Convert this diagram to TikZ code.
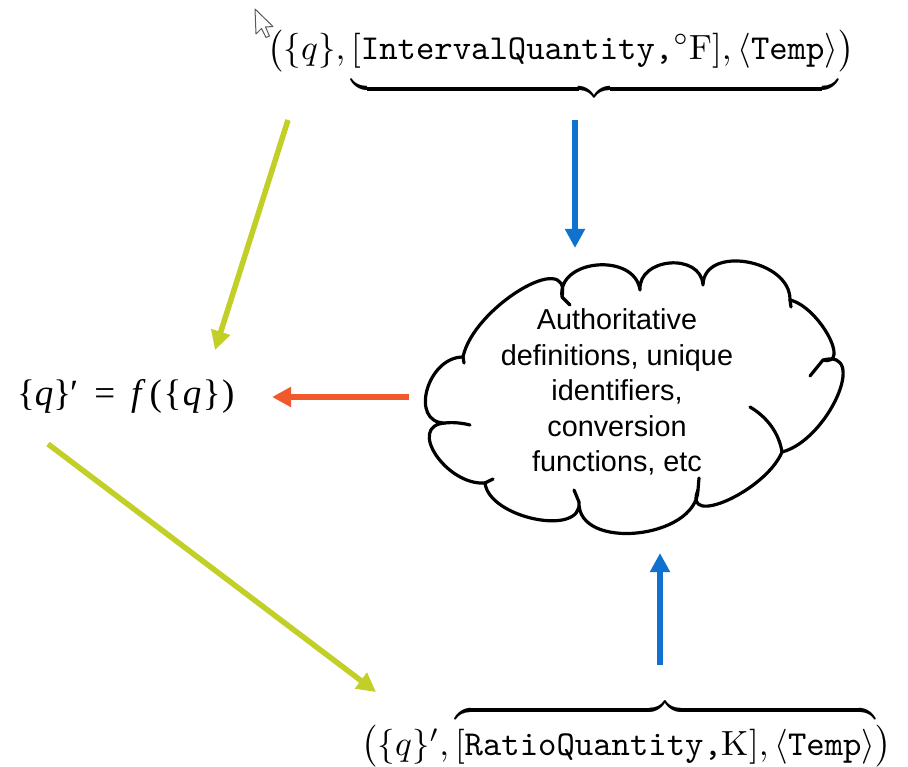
\documentclass[tikz,border=0pt]{standalone}
\usepackage{fontspec}
\newfontfamily\cloudfont{Liberation Sans}
\newfontfamily\eqfont{Liberation Serif}
\usetikzlibrary{arrows.meta}
\definecolor{limegreen}{RGB}{193,207,38}
\definecolor{arrowblue}{RGB}{14,114,206}
\definecolor{arroworange}{RGB}{240,90,42}
\tikzset{
  fatarrow/.style={line width=5.5pt,-{Triangle[length=19pt,width=19pt]}},
  limearrow/.style={fatarrow,draw=limegreen,fill=limegreen},
  bluearrow/.style={fatarrow,draw=arrowblue,fill=arrowblue},
  orangearrow/.style={fatarrow,draw=arroworange,fill=arroworange},
  cloudline/.style={draw=black,line width=3.2pt,line cap=round,line join=round},
  mathlabel/.style={inner sep=0pt,scale=3.5,transform shape}
}
\begin{document}
\begin{tikzpicture}[x=1pt,y=-1pt]
\useasboundingbox (0,0) rectangle (908,767);
\fill[white] (0,0) rectangle (908,767);

% mouse pointer
\draw[fill=white,draw=gray!70!black,line width=1pt,line join=round]
  (255,9) -- (256,34) -- (261.5,28.5) -- (266,37.5) -- (269.5,36) -- (265.5,27) -- (273,26.5) -- cycle;

% quantity tuples
\node[mathlabel,anchor=base west] (topq) at (267,60)
  {$\bigl(\{q\},\underbrace{[\texttt{IntervalQuantity,}{}^{\circ}\mathrm{F}],\langle\texttt{Temp}\rangle\vrule depth 4.6pt width 0pt height 0pt}\bigr)$};
\node[mathlabel,anchor=base west] (botq) at (361,755)
  {$\bigl(\{q\}',\overbrace{[\texttt{RatioQuantity,}\mathrm{K}],\langle\texttt{Temp}\rangle\vrule height 9.2pt width 0pt depth 0pt}\bigr)$};

% conversion formula
\node[inner sep=0pt,anchor=base west] (fq) at (17,405)
  {\eqfont\fontsize{37}{42}\selectfont\{\textit{q}\}\kern-1pt′\hspace{16pt}=\hspace{16pt}\textit{f}\kern4pt(\kern1.5pt\{\kern1.5pt\textit{q}\kern1.5pt\}\kern1.5pt)};

% cloud outline
\draw[cloudline]
  (445,423) .. controls (409,423) and (427,357) .. (463,357)
  .. controls (473,307.7) and (572,247.7) .. (562,297)
  .. controls (556.7,259) and (634.7,252) .. (640,290)
  .. controls (638,257.3) and (701,252.3) .. (703,285)
  .. controls (703.7,244.3) and (790.7,259.3) .. (790,300)
  .. controls (818.7,306.7) and (851.7,366.7) .. (823,360)
  .. controls (869,348) and (828,440) .. (782,452)
  .. controls (766,490.7) and (682,528.7) .. (698,490)
  .. controls (696,539.3) and (577,551.3) .. (579,502)
  .. controls (583,537.3) and (489,518.3) .. (485,483)
  .. controls (446.3,485.7) and (406.3,425.7) .. (445,423);
% inner ends of the puffs
\draw[cloudline] (445,423) .. controls (453,422) and (462,423) .. (470,425);
\draw[cloudline] (485,483) -- (493,479);
\draw[cloudline] (579,502) -- (574,490);
\draw[cloudline] (698,490) -- (699,478);
\draw[cloudline] (782,452) .. controls (779,433) and (767,417) .. (750,407);
\draw[cloudline] (823,360) -- (810,376);
\draw[cloudline] (790,300) -- (791,307);
\draw[cloudline] (562,297) -- (570,305);
\draw[cloudline] (463,357) -- (464,363);

\node[inner sep=0pt,align=center,font=\cloudfont\fontsize{28.8}{35.5}\selectfont] (ctext) at (617,392)
  {Authoritative\\definitions, unique\\identifiers,\\conversion\\functions, etc};

% arrow ends
\coordinate (ga1) at (288,120);
\coordinate (ga2) at (215,350);
\coordinate (ba1) at (575,120);
\coordinate (ba2) at (575,248);
\coordinate (oa1) at (409,397);
\coordinate (oa2) at (272,397);
\coordinate (gb1) at (48,444);
\coordinate (gb2) at (376,692);
\coordinate (bb1) at (660,665);
\coordinate (bb2) at (660,553);

\draw[limearrow] (ga1) -- (ga2);
\draw[bluearrow] (ba1) -- (ba2);
\draw[orangearrow] (oa1) -- (oa2);
\draw[limearrow] (gb1) -- (gb2);
\draw[bluearrow] (bb1) -- (bb2);
\end{tikzpicture}
\end{document}
